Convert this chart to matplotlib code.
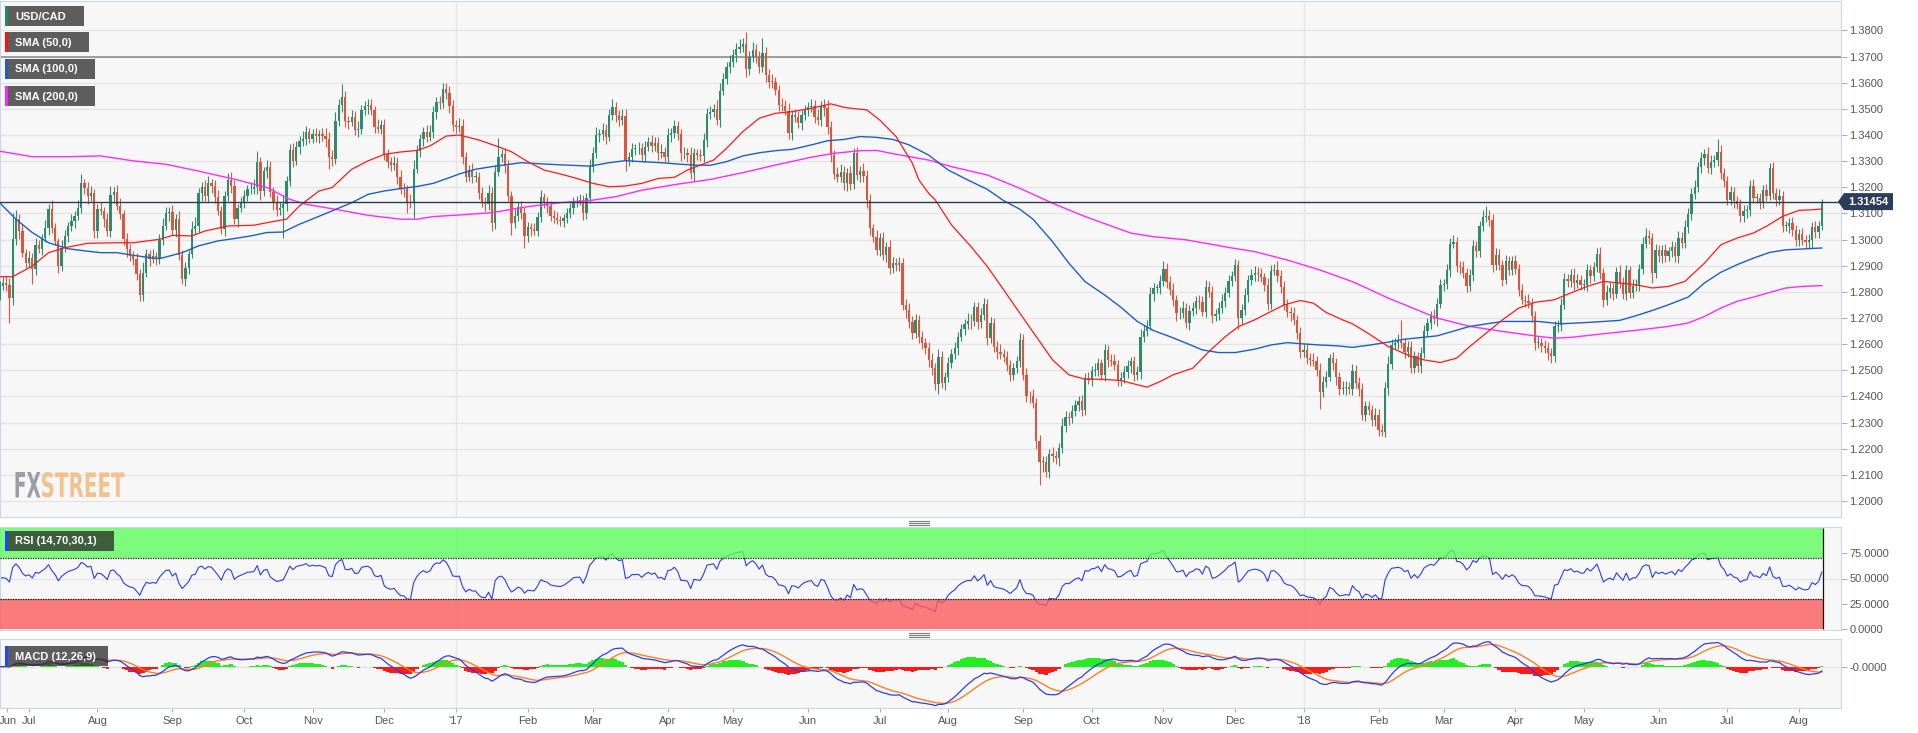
import numpy as np
import pandas as pd
import matplotlib
matplotlib.use('Agg')
import matplotlib.pyplot as plt
from matplotlib.patches import Rectangle, Polygon, PathPatch
from matplotlib.textpath import TextPath
from matplotlib.font_manager import FontProperties
from matplotlib.transforms import Affine2D

plt.rcParams['font.family'] = ['Liberation Sans', 'DejaVu Sans']

# daily closes in pips (1e-4), one per weekday starting 2016-06-20
close_2016 = [
    12823, 12835, 12825, 12778, 13004, 13078, 13033, 12950, 12912,  # Jun
    12931, 12886, 12978, 12965, 13008, 13046, 13118, 13046, 12995, 12899, 12969, 13014, 13052, 13071, 13090, 13122, 13215, 13199, 13167, 13180, 13033,  # Jul
    13116, 13110, 13078, 13033, 13169, 13182, 13129, 13097, 13004, 12963, 12937, 12925, 12867, 12787, 12874, 12944, 12925, 12937, 12925, 12999, 13052, 13101, 13106,  # Aug
    13037, 13078, 12940, 12851, 12893, 12944, 13042, 13052, 13177, 13203, 13167, 13215, 13205, 13161, 13110, 13042, 13167, 13228, 13205, 13078, 13122, 13144,  # Sep
    13167, 13192, 13195, 13203, 13297, 13186, 13262, 13279, 13182, 13144, 13113, 13122, 13135, 13224, 13343, 13301, 13356, 13377, 13386, 13412, 13386,  # Oct
    13403, 13396, 13403, 13396, 13384, 13317, 13310, 13454, 13514, 13547, 13454, 13450, 13470, 13419, 13424, 13496, 13511, 13514, 13496, 13432, 13424, 13437,  # Nov
    13326, 13297, 13284, 13292, 13241, 13195, 13192, 13144, 13139, 13271, 13339, 13384, 13412, 13394, 13412, 13488, 13526, 13521, 13577, 13559, 13511, 13437,  # Dec
]
close_2017 = [
    13432, 13435, 13317, 13241, 13266, 13241, 13241, 13177, 13141, 13138, 13179, 13062, 13260, 13317, 13327, 13281, 13167, 13065, 13090, 13126, 13103, 13013,  # Jan
    13047, 13039, 13034, 13085, 13161, 13141, 13128, 13090, 13081, 13075, 13071, 13081, 13100, 13119, 13145, 13149, 13149, 13100, 13158, 13279,  # Feb
    13330, 13400, 13404, 13419, 13394, 13476, 13506, 13476, 13457, 13473, 13304, 13315, 13348, 13349, 13350, 13323, 13355, 13374, 13358, 13371, 13330, 13336, 13317,  # Mar
    13400, 13406, 13434, 13404, 13330, 13330, 13323, 13253, 13330, 13323, 13320, 13381, 13480, 13489, 13498, 13457, 13570, 13616, 13659, 13681,  # Apr
    13705, 13730, 13738, 13748, 13651, 13697, 13725, 13700, 13659, 13713, 13630, 13604, 13603, 13572, 13515, 13511, 13493, 13406, 13476, 13470, 13447, 13476, 13496,  # May
    13506, 13511, 13470, 13457, 13511, 13502, 13432, 13323, 13251, 13241, 13260, 13215, 13256, 13212, 13332, 13247, 13263, 13243, 13151, 13043, 13011, 12962,  # Jun
    13005, 12941, 12970, 12890, 12911, 12903, 12909, 12749, 12730, 12686, 12641, 12692, 12628, 12603, 12584, 12539, 12508, 12448, 12550, 12451, 12474,  # Jul
    12530, 12563, 12585, 12629, 12657, 12678, 12690, 12687, 12741, 12683, 12712, 12754, 12623, 12680, 12591, 12572, 12563, 12550, 12521, 12483, 12508, 12534, 12616,  # Aug
    12483, 12402, 12400, 12374, 12228, 12151, 12151, 12113, 12181, 12171, 12164, 12202, 12288, 12321, 12317, 12343, 12368, 12381, 12349, 12470, 12464,  # Sep
    12496, 12502, 12527, 12483, 12576, 12540, 12534, 12521, 12464, 12470, 12492, 12518, 12534, 12483, 12492, 12629, 12652, 12671, 12792, 12814, 12814, 12843,  # Oct
    12887, 12839, 12808, 12769, 12718, 12721, 12738, 12680, 12727, 12738, 12767, 12763, 12725, 12818, 12801, 12706, 12716, 12738, 12766, 12797, 12843, 12862,  # Nov
    12901, 12699, 12731, 12788, 12846, 12865, 12874, 12869, 12856, 12827, 12754, 12881, 12884, 12859, 12820, 12750, 12725, 12718, 12693, 12642, 12572,  # Dec
]
close_2018 = [
    12578, 12546, 12540, 12534, 12502, 12419, 12457, 12476, 12546, 12527, 12474, 12428, 12432, 12438, 12428, 12499, 12451, 12428, 12330, 12362, 12349, 12311, 12330,  # Jan
    12273, 12266, 12432, 12525, 12598, 12604, 12614, 12604, 12572, 12589, 12508, 12553, 12515, 12566, 12649, 12681, 12706, 12696, 12755, 12827,  # Feb
    12831, 12882, 12984, 12989, 12898, 12895, 12872, 12821, 12866, 12974, 12955, 13051, 13086, 13091, 13076, 12904, 12942, 12904, 12847, 12917, 12885, 12917,  # Mar
    12887, 12808, 12770, 12767, 12757, 12706, 12604, 12604, 12594, 12585, 12566, 12553, 12668, 12674, 12751, 12849, 12840, 12866, 12834, 12846, 12827,  # Apr
    12827, 12882, 12859, 12895, 12946, 12872, 12770, 12798, 12815, 12793, 12876, 12834, 12793, 12882, 12795, 12824, 12827, 12887, 12984, 13015, 13006, 12872, 12959,  # May
    12936, 12959, 12936, 12955, 12972, 12936, 13008, 12987, 13048, 13099, 13176, 13201, 13278, 13312, 13329, 13274, 13295, 13303, 13335, 13255, 13223,  # Jun
    13153, 13181, 13146, 13136, 13089, 13108, 13114, 13206, 13159, 13159, 13142, 13188, 13168, 13274, 13178, 13153, 13168, 13051, 13051, 13063, 13035, 12999,  # Jul
    13022, 12999, 12989, 12997, 13048, 13028, 13053, 13145.4,  # Aug
]

# upper / lower wick length in pips beyond the candle body
wick_up_2016 = [
    18, 22, 25, 30, 99, 35, 20, 28, 15,
    25, 18, 30, 22, 15, 28, 20, 35, 18, 12, 30, 22, 16, 25, 20, 30, 35, 18, 22, 25, 15,
    20, 28, 15, 22, 35, 18, 25, 30, 16, 22, 20, 18, 25, 22, 40, 20, 18, 28, 15, 22, 30, 25, 18,
    25, 18, 30, 20, 22, 16, 28, 35, 20, 18, 25, 30, 15, 22, 28, 20, 18, 25, 30, 22, 16, 20,
    22, 18, 25, 30, 40, 20, 16, 25, 22, 18, 28, 20, 35, 18, 22, 25, 20, 18, 28, 22, 16,
    20, 25, 18, 22, 30, 28, 25, 35, 22, 47, 20, 18, 25, 22, 28, 20, 18, 25, 22, 16, 28, 20,
    25, 20, 18, 28, 22, 25, 20, 18, 30, 35, 22, 18, 20, 25, 28, 22, 18, 22, 23, 20, 28, 22,
]
wick_dn_2016 = [
    20, 15, 22, 96, 30, 25, 30, 18, 22,
    18, 57, 20, 15, 25, 18, 30, 22, 15, 28, 20, 15, 22, 18, 25, 16, 20, 25, 30, 18, 28,
    25, 15, 30, 18, 22, 28, 16, 20, 25, 30, 18, 22, 22, 22, 20, 18, 25, 16, 22, 18, 20, 15, 28,
    20, 28, 18, 22, 30, 25, 16, 20, 22, 30, 18, 25, 28, 20, 16, 22, 30, 18, 25, 20, 28, 18,
    25, 20, 18, 22, 28, 35, 20, 25, 18, 30, 22, 20, 114, 25, 18, 22, 16, 28, 20, 25, 18,
    18, 22, 25, 20, 28, 48, 30, 22, 18, 25, 22, 28, 16, 20, 25, 22, 18, 30, 20, 25, 18, 22,
    20, 25, 22, 18, 28, 22, 30, 41, 20, 58, 18, 22, 25, 20, 18, 22, 25, 20, 18, 22, 25, 20,
]
wick_up_2017 = [
    22, 30, 25, 18, 20, 28, 22, 18, 25, 20, 30, 22, 25, 70, 18, 22, 25, 20, 28, 18, 22, 20,
    20, 18, 25, 22, 28, 16, 20, 18, 22, 25, 15, 18, 20, 22, 16, 18, 25, 20, 22, 30,
    25, 30, 20, 28, 22, 25, 30, 22, 18, 25, 28, 20, 22, 18, 25, 20, 22, 18, 25, 20, 22, 28, 18,
    28, 22, 25, 20, 18, 25, 22, 30, 20, 18, 22, 28, 25, 20, 22, 35, 28, 20, 22, 25,
    25, 20, 28, 22, 44, 25, 30, 22, 20, 57, 25, 22, 28, 20, 18, 25, 22, 30, 20, 25, 22, 18, 20,
    20, 25, 22, 28, 18, 25, 30, 22, 20, 25, 28, 22, 18, 25, 17, 22, 20, 28, 25, 22, 18, 25,
    22, 25, 20, 28, 22, 18, 25, 20, 22, 28, 20, 25, 18, 22, 20, 25, 28, 22, 30, 25, 20,
    22, 20, 25, 18, 22, 20, 28, 25, 20, 22, 25, 22, 18, 25, 20, 22, 28, 20, 25, 18, 22, 20, 25,
    22, 25, 20, 28, 22, 25, 20, 22, 18, 25, 22, 20, 28, 22, 18, 25, 20, 22, 25, 20, 22,
    20, 25, 22, 18, 25, 20, 22, 28, 18, 22, 25, 20, 18, 22, 25, 28, 20, 22, 25, 20, 18, 22,
    31, 22, 20, 25, 18, 22, 28, 20, 22, 25, 18, 20, 22, 28, 25, 20, 18, 22, 25, 20, 22, 18,
    25, 20, 22, 28, 18, 22, 25, 20, 22, 18, 25, 20, 22, 36, 25, 20, 22, 18, 25, 20, 22,
]
wick_dn_2017 = [
    25, 20, 28, 22, 18, 25, 20, 22, 18, 30, 25, 28, 20, 18, 22, 25, 20, 48, 22, 18, 25, 47,
    22, 25, 18, 20, 16, 22, 28, 20, 18, 15, 20, 22, 18, 16, 20, 22, 18, 25, 20, 18,
    20, 18, 25, 22, 28, 18, 20, 25, 22, 18, 40, 22, 18, 25, 20, 22, 25, 18, 22, 20, 25, 18, 22,
    20, 25, 18, 22, 30, 20, 25, 22, 28, 18, 20, 22, 25, 18, 22, 20, 25, 18, 20, 22,
    22, 25, 18, 20, 28, 22, 18, 25, 22, 20, 28, 25, 22, 18, 25, 20, 16, 22, 25, 20, 22, 28, 18,
    22, 18, 25, 20, 22, 28, 30, 25, 18, 22, 20, 25, 28, 22, 18, 20, 25, 22, 30, 25, 22, 20,
    25, 20, 28, 22, 18, 25, 22, 20, 28, 25, 22, 18, 25, 20, 22, 28, 25, 22, 37, 20, 25,
    18, 22, 20, 25, 18, 22, 20, 28, 18, 25, 22, 20, 25, 18, 22, 28, 20, 18, 22, 25, 20, 18, 22,
    20, 22, 25, 18, 28, 89, 40, 22, 25, 20, 22, 28, 18, 22, 25, 20, 18, 22, 25, 20, 18,
    22, 18, 25, 20, 22, 28, 18, 20, 25, 22, 18, 20, 28, 22, 18, 25, 20, 22, 18, 25, 20, 22,
    20, 25, 18, 22, 28, 20, 22, 18, 25, 20, 22, 28, 18, 20, 22, 25, 18, 22, 20, 25, 18, 20,
    20, 42, 22, 18, 25, 20, 22, 28, 18, 22, 25, 20, 18, 22, 25, 20, 22, 28, 18, 22, 25,
]
wick_up_2018 = [
    22, 25, 20, 28, 22, 25, 20, 22, 18, 25, 22, 20, 28, 22, 18, 25, 20, 22, 25, 20, 22, 18, 25,
    22, 20, 25, 28, 22, 18, 25, 79, 20, 22, 25, 20, 18, 22, 25, 20, 22, 28, 20, 22,
    20, 25, 22, 28, 20, 22, 25, 18, 22, 25, 20, 22, 28, 36, 22, 20, 25, 22, 18, 25, 20, 22,
    25, 20, 22, 18, 25, 20, 22, 28, 20, 22, 25, 18, 22, 20, 25, 22, 18, 20, 25, 22, 20,
    22, 25, 20, 18, 22, 25, 20, 28, 22, 18, 20, 25, 22, 20, 18, 25, 22, 20, 25, 29, 22, 20, 25,
    22, 20, 25, 18, 22, 20, 25, 22, 28, 20, 22, 25, 20, 22, 18, 25, 30, 22, 50, 25, 20,
    22, 25, 20, 22, 18, 25, 20, 22, 25, 20, 18, 22, 25, 19, 22, 20, 25, 18, 22, 20, 25, 22,
    20, 22, 18, 25, 20, 22, 18, 8,
]
wick_dn_2018 = [
    20, 22, 25, 18, 22, 67, 20, 22, 18, 25, 30, 22, 20, 25, 18, 22, 20, 25, 18, 22, 20, 25, 23,
    23, 16, 22, 25, 20, 18, 22, 20, 25, 22, 18, 20, 22, 25, 20, 18, 22, 20, 25, 18,
    22, 20, 25, 18, 22, 28, 20, 22, 18, 25, 20, 22, 18, 20, 25, 28, 22, 20, 25, 18, 22, 20,
    20, 22, 18, 25, 20, 22, 28, 20, 22, 18, 25, 26, 20, 22, 25, 18, 20, 22, 25, 20, 18,
    20, 22, 25, 18, 20, 22, 28, 20, 22, 25, 18, 20, 22, 25, 20, 18, 22, 25, 20, 18, 22, 38, 20,
    20, 25, 22, 18, 22, 20, 25, 18, 20, 22, 25, 20, 18, 22, 25, 20, 22, 18, 20, 25, 22,
    20, 22, 25, 18, 22, 20, 25, 22, 18, 20, 25, 22, 20, 18, 22, 25, 20, 22, 18, 25, 20, 22,
    22, 18, 21, 20, 29, 20, 22, 15,
]

# moving averages: (candle index, value in pips)
sma50_idx = [0, 4, 10, 15, 20, 27, 36, 41, 49, 53, 59, 63, 70, 78, 86, 88, 92, 98, 102, 108, 113, 118, 123, 128, 132, 137, 141, 147, 153, 157,
             162, 167, 172, 177, 182, 187, 192, 197, 202, 207, 211, 215, 219, 223, 228, 233, 238, 243, 249, 255, 259, 262, 266, 270, 275, 280, 282, 285, 287, 292,
             298, 303, 308, 313, 318, 323, 328, 333, 338, 344, 349, 352, 356, 360, 366, 371, 376, 380, 385, 390, 394, 399, 403, 407, 412, 415, 420, 426, 433, 437,
             442, 447, 451, 456, 461, 466, 471, 477, 482, 487, 492, 497, 502, 507, 512, 517, 523, 528, 533, 538, 542, 547, 552, 556, 559]
sma50_val = [12858, 12858, 12899, 12950, 12969, 12986, 12988, 12988, 13001, 13016, 13014, 13033, 13052, 13055, 13074, 13078, 13129, 13186, 13199, 13269, 13301, 13326, 13335, 13341, 13358, 13396, 13400, 13381, 13355, 13336,
             13298, 13266, 13251, 13234, 13215, 13202, 13205, 13215, 13234, 13238, 13266, 13285, 13304, 13349, 13413, 13464, 13483, 13489, 13502, 13519, 13506, 13501, 13496, 13457, 13394, 13292, 13228, 13177, 13152, 13056,
             12973, 12897, 12808, 12718, 12629, 12540, 12483, 12466, 12466, 12461, 12445, 12436, 12457, 12483, 12508, 12572, 12629, 12667, 12693, 12725, 12750, 12767, 12757, 12721, 12693, 12678, 12640, 12591, 12553, 12540,
             12530, 12547, 12591, 12642, 12693, 12738, 12760, 12770, 12796, 12821, 12840, 12834, 12827, 12815, 12821, 12840, 12910, 12980, 13006, 13025, 13051, 13089, 13112, 13114, 13117]
sma100_idx = [0, 5, 10, 15, 21, 26, 31, 36, 41, 46, 49, 56, 61, 67, 72, 77, 82, 87, 92, 97, 102, 108, 113, 118, 123, 128, 133, 138, 141, 146,
              151, 160, 167, 172, 181, 187, 192, 197, 203, 208, 213, 218, 223, 228, 233, 238, 243, 249, 254, 259, 264, 269, 274, 279, 285, 291, 297, 303, 308, 313,
              317, 323, 328, 333, 339, 344, 349, 354, 359, 364, 369, 374, 379, 385, 390, 395, 400, 405, 410, 415, 420, 426, 431, 441, 451, 461, 472, 479, 487, 497,
              502, 507, 512, 518, 523, 528, 533, 538, 543, 548, 553, 559]
sma100_val = [13141, 13078, 13027, 12988, 12965, 12957, 12950, 12950, 12940, 12931, 12927, 12950, 12976, 12995, 13004, 13014, 13027, 13029, 13059, 13084, 13110, 13141, 13173, 13186, 13195, 13203, 13215, 13237, 13251, 13269,
              13279, 13294, 13289, 13286, 13281, 13294, 13302, 13298, 13294, 13289, 13285, 13284, 13298, 13320, 13332, 13340, 13345, 13362, 13378, 13383, 13394, 13391, 13383, 13362, 13323, 13266, 13228, 13192, 13149, 13116,
              13078, 12992, 12910, 12839, 12788, 12741, 12687, 12652, 12629, 12604, 12578, 12568, 12568, 12581, 12597, 12606, 12601, 12597, 12594, 12588, 12596, 12608, 12619, 12632, 12668, 12687, 12687, 12678, 12683, 12691,
              12709, 12729, 12751, 12780, 12834, 12875, 12904, 12929, 12951, 12961, 12964, 12968]
sma200_idx = [0, 10, 21, 31, 41, 51, 61, 72, 82, 89, 94, 102, 113, 123, 128, 133, 141, 151, 162, 172, 182, 189, 197, 208, 218, 228, 238, 249, 256, 264,
              269, 276, 285, 292, 303, 313, 323, 333, 347, 354, 364, 378, 385, 395, 405, 415, 420, 426, 431, 441, 451, 461, 472, 477, 482, 492, 502, 512, 518, 523,
              528, 533, 538, 543, 548, 553, 559]
sma200_val = [13338, 13317, 13317, 13320, 13301, 13288, 13262, 13231, 13199, 13154, 13135, 13118, 13093, 13078, 13078, 13088, 13094, 13103, 13126, 13141, 13151, 13164, 13189, 13212, 13230, 13256, 13285, 13315, 13330, 13340,
              13341, 13324, 13304, 13279, 13247, 13196, 13139, 13088, 13025, 13011, 12999, 12968, 12954, 12922, 12884, 12839, 12811, 12776, 12751, 12700, 12668, 12649, 12630, 12623, 12626, 12640, 12653, 12668, 12681, 12706,
              12738, 12764, 12780, 12798, 12815, 12821, 12824]

start_date = '2016-06-20'
first_open = 12790
last_price = 1.31454
level_line = 1.3700

# ---- derived series ----
close = np.array(close_2016 + close_2017 + close_2018, dtype=float) / 1e4
wick_up = np.array(wick_up_2016 + wick_up_2017 + wick_up_2018) / 1e4
wick_dn = np.array(wick_dn_2016 + wick_dn_2017 + wick_dn_2018) / 1e4
n = len(close)
assert len(wick_up) == n and len(wick_dn) == n, (n, len(wick_up), len(wick_dn))
open_ = np.r_[first_open / 1e4, close[:-1]]
high = np.maximum(open_, close) + wick_up
low = np.minimum(open_, close) - wick_dn
x = np.arange(n)
dates = pd.bdate_range(start_date, periods=n)

# RSI (Wilder), averages seeded from the first 14 moves split evenly
delta = np.diff(close, prepend=close[0])
seed = np.abs(delta[1:15]).mean() / 2
ag, al = seed, seed
rsi = np.empty(n)
for i in range(n):
    g, l = max(delta[i], 0), max(-delta[i], 0)
    ag = (ag * 13 + g) / 14
    al = (al * 13 + l) / 14
    rsi[i] = 100 - 100 / (1 + ag / al)

cs = pd.Series(close)
macd = (cs.ewm(span=12, adjust=True).mean() - cs.ewm(span=26, adjust=True).mean())
signal = macd.ewm(span=9, adjust=True).mean()
hist = (macd - signal).to_numpy()
macd = macd.to_numpy()
signal = signal.to_numpy()

# ---- figure layout in pixels ----
W, H = 1918, 733
fig = plt.figure(figsize=(W / 100, H / 100), dpi=100)
fig.patch.set_facecolor('white')


def px_axes(x0, y0, x1, y1):
    return fig.add_axes([x0 / W, 1 - y1 / H, (x1 - x0) / W, (y1 - y0) / H])


ax = px_axes(0, 1, 1841, 517)
ax_rsi = px_axes(0, 527, 1841, 630)
ax_macd = px_axes(0, 639, 1841, 708)

xmin, xmax = 0.104, 564.88
last_x = n - 0.6
month_idx = [i for i in range(1, n) if dates[i].month != dates[i - 1].month]
year_idx = [i for i in month_idx if dates[i].month == 1]
grid_c = '#e4e4e4'
spine_c = '#cfd4e6'

for a in (ax, ax_rsi, ax_macd):
    a.set_facecolor('#f7f7f7')
    a.set_xlim(xmin, xmax)
    for s in a.spines.values():
        s.set_color(spine_c)
    a.yaxis.tick_right()
    a.tick_params(axis='y', length=4, color='#b0b0b0', labelsize=8, labelcolor='#555555', pad=2)
    for i in year_idx:
        a.axvline(i, color=grid_c, lw=0.9, zorder=0)

# ---- price panel ----
up = close >= open_
col = np.where(up, '#2f8a6e', '#d9573f')
ax.vlines(x, low, high, colors=col, lw=0.8, zorder=3)
body = np.maximum(np.abs(close - open_), 0.0003)
ax.bar(x, body, bottom=np.minimum(open_, close), width=0.7, color=col, lw=0, zorder=4)
ax.plot(sma200_idx, np.array(sma200_val) / 1e4, color='#ff2bff', lw=1.0, zorder=5)
ax.plot(sma100_idx, np.array(sma100_val) / 1e4, color='#1f5fc0', lw=1.0, zorder=5)
ax.plot(sma50_idx, np.array(sma50_val) / 1e4, color='#ff1a1a', lw=0.9, zorder=5)
ax.axhline(level_line, color='#8e8e8e', lw=1.2, zorder=2)
ax.axhline(last_price, color='#2c3a58', lw=1.0, zorder=6)
ax.set_ylim(1.19392, 1.39124)
yt = np.round(np.arange(1.20, 1.3801, 0.01), 2)
ax.set_yticks(yt)
ax.set_yticklabels([f'{v:.4f}' for v in yt])
ax.grid(axis='y', color=grid_c, lw=0.9, zorder=0)
ax.set_axisbelow(True)
ax.tick_params(axis='x', bottom=False, labelbottom=False)

# ---- RSI panel ----
ax_rsi.set_ylim(-1, 101)
ax_rsi.axhline(50, color=grid_c, lw=0.9, zorder=0)
ax_rsi.plot(x, rsi, color='#2a3ee8', lw=0.8, zorder=2)
ax_rsi.add_patch(Rectangle((xmin, 70), last_x - xmin, 30, facecolor=(93 / 255, 253 / 255, 93 / 255), alpha=0.8, lw=0, zorder=3))
ax_rsi.add_patch(Rectangle((xmin, 0), last_x - xmin, 30, facecolor=(250 / 255, 92 / 255, 92 / 255), alpha=0.8, lw=0, zorder=3))
ax_rsi.hlines([70, 30], xmin, last_x, colors='#111111', linestyles=(0, (1, 1)), lw=0.9, zorder=4)
ax_rsi.vlines(last_x, 0, 100, colors='#111111', lw=0.9, zorder=4)
ax_rsi.set_yticks([0, 25, 50, 75])
ax_rsi.set_yticklabels(['0.0000', '25.0000', '50.0000', '75.0000'])
ax_rsi.tick_params(axis='x', bottom=False, labelbottom=False)

# ---- MACD panel ----
lo = min(macd.min(), signal.min()) * 1.06
ax_macd.set_ylim(lo, -lo * 0.667)
ax_macd.axhline(0, color=grid_c, lw=0.9, zorder=0)
ax_macd.bar(x, hist, width=1.0, color=np.where(hist >= 0, '#22ee22', '#ff1a1a'), lw=0, zorder=2)
ax_macd.plot(x, signal, color='#ff7f27', lw=1.0, zorder=3)
ax_macd.plot(x, macd, color='#2a3ee8', lw=0.9, zorder=4)
ax_macd.set_yticks([0])
ax_macd.set_yticklabels(['-0.0000'])
tick_pos = [2.4] + month_idx
tick_lab = [dates[0].strftime('%b')] + [("'" + dates[i].strftime('%y')) if dates[i].month == 1 else dates[i].strftime('%b') for i in month_idx]
ax_macd.set_xticks(tick_pos)
ax_macd.set_xticklabels(tick_lab)
ax_macd.tick_params(axis='x', length=3, color='#b0b0b0', labelsize=8, labelcolor='#555555', pad=3)

# ---- overlay: labels, price tag, watermark ----
ov = fig.add_axes([0, 0, 1, 1], zorder=10)
ov.set_xlim(0, W)
ov.set_ylim(H, 0)
ov.axis('off')
ov.patch.set_alpha(0)

boxes = [('USD/CAD', 6, 84, '#22876a'), ('SMA (50,0)', 32, 89, '#ff1010'),
         ('SMA (100,0)', 59, 95, '#1f5fc0'), ('SMA (200,0)', 86, 95, '#ff22ff'),
         ('RSI (14,70,30,1)', 531, 114, '#2244ff'), ('MACD (12,26,9)', 646, 108, '#2244ff')]
for label, y0, x1, stripe in boxes:
    ov.add_patch(Rectangle((5, y0), x1 - 5, 20, facecolor='#2a2a2a', alpha=0.75, lw=0))
    ov.add_patch(Rectangle((5, y0), 3, 20, facecolor=stripe, lw=0))
    ov.text(15, y0 + 10.5, label, color='white', fontsize=8, fontweight='bold', va='center', ha='left')

py = 201.6
ov.add_patch(Polygon([(1838, py), (1844, py - 8.5), (1893, py - 8.5), (1893, py + 8.5), (1844, py + 8.5)],
                     closed=True, facecolor='#2c3d5c', lw=0))
ov.text(1868, py + 0.5, f'{last_price:.5f}', color='white', fontsize=8, fontweight='bold', va='center', ha='center')

for hy in (522.5, 635):
    for d in (-2, 0, 2):
        ov.plot([909, 929], [hy + d, hy + d], color='#7a7a7a', lw=0.8)


def logo_text(s, x0, x1, y_top, y_bot, color):
    tp = TextPath((0, 0), s, size=40, prop=FontProperties(family='DejaVu Sans', weight='bold'))
    e = tp.get_extents()
    tr = Affine2D().translate(-e.x0, -e.y0).scale((x1 - x0) / e.width, -(y_bot - y_top) / e.height).translate(x0, y_bot)
    ov.add_patch(PathPatch(tr.transform_path(tp), facecolor=color, lw=0))


logo_text('FX', 15.5, 40.5, 472, 497.5, '#9c9ea5')
logo_text('STREET', 42, 124.5, 472, 497.5, '#f2c28e')

fig.savefig('out.png', dpi=100, facecolor='white')
